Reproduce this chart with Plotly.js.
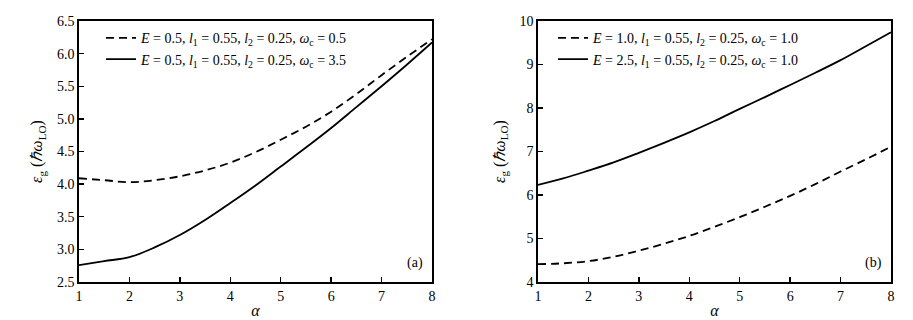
<!DOCTYPE html>
<html><head><meta charset="utf-8">
<script src="https://cdn.plot.ly/plotly-3.0.1.min.js"></script>
<style>body{margin:0;background:#fff}#c{width:913px;height:320px}</style>
</head><body><div id="c"></div>
<script>
const alpha = [1, 1.5, 2, 2.5, 3, 3.5, 4, 4.5, 5, 5.5, 6, 6.5, 7, 7.5, 8];
const aDashed = [4.09, 4.06, 4.03, 4.06, 4.12, 4.21, 4.33, 4.49, 4.68, 4.88, 5.11, 5.38, 5.67, 5.95, 6.22];
const aSolid  = [2.76, 2.82, 2.88, 3.03, 3.22, 3.45, 3.71, 3.98, 4.27, 4.56, 4.86, 5.18, 5.5, 5.83, 6.17];
const bDashed = [4.41, 4.43, 4.48, 4.58, 4.72, 4.88, 5.06, 5.27, 5.49, 5.73, 5.98, 6.25, 6.54, 6.82, 7.11];
const bSolid  = [6.23, 6.38, 6.56, 6.75, 6.97, 7.2, 7.44, 7.7, 7.98, 8.25, 8.53, 8.81, 9.1, 9.42, 9.74];
const namesA = ["<i>E</i> = 0.5, <i>l</i><sub>1</sub> = 0.55, <i>l</i><sub>2</sub> = 0.25, <i>ω</i><sub>c</sub> = 0.5",
                "<i>E</i> = 0.5, <i>l</i><sub>1</sub> = 0.55, <i>l</i><sub>2</sub> = 0.25, <i>ω</i><sub>c</sub> = 3.5"];
const namesB = ["<i>E</i> = 1.0, <i>l</i><sub>1</sub> = 0.55, <i>l</i><sub>2</sub> = 0.25, <i>ω</i><sub>c</sub> = 1.0",
                "<i>E</i> = 2.5, <i>l</i><sub>1</sub> = 0.55, <i>l</i><sub>2</sub> = 0.25, <i>ω</i><sub>c</sub> = 1.0"];
const xTicks = [1,2,3,4,5,6,7,8];
const yTicksA = [2.5,3.0,3.5,4.0,4.5,5.0,5.5,6.0,6.5];
const yTicksB = [4,5,6,7,8,9,10];

const font = {family: "Times New Roman, Liberation Serif, serif", size: 14, color: "#000"};
const titleFont = {family: "Times New Roman, Liberation Serif, serif", size: 16, color: "#000"};
const dashStyle = "8px,5px";
const lw = 1.8;
const traces = [
  {x: alpha, y: aDashed, name: namesA[0], mode: "lines", line: {color: "#000", width: lw, dash: dashStyle, shape: "spline"}, xaxis: "x", yaxis: "y", legend: "legend"},
  {x: alpha, y: aSolid,  name: namesA[1], mode: "lines", line: {color: "#000", width: lw, shape: "spline"}, xaxis: "x", yaxis: "y", legend: "legend"},
  {x: alpha, y: bDashed, name: namesB[0], mode: "lines", line: {color: "#000", width: lw, dash: dashStyle, shape: "spline"}, xaxis: "x2", yaxis: "y2", legend: "legend2"},
  {x: alpha, y: bSolid,  name: namesB[1], mode: "lines", line: {color: "#000", width: lw, shape: "spline"}, xaxis: "x2", yaxis: "y2", legend: "legend2"}
];
const axBase = {showline: true, linecolor: "#000", linewidth: 1.8, mirror: true, ticks: "inside", ticklen: 5, tickwidth: 1.3, tickcolor: "#000", showgrid: false, zeroline: false, tickfont: font};
const ytitle = {text: "<i>ε</i><sub>g</sub> (<i>ℏω</i><sub>LO</sub>)", font: titleFont, standoff: 10};
const xtitle = {text: "<i>α</i>", font: titleFont, standoff: 2};
const legBase = {bgcolor: "rgba(0,0,0,0)", borderwidth: 0, font: font, xanchor: "left", yanchor: "top", tracegroupgap: 0, itemwidth: 30};
const layout = {
  width: 913, height: 320, paper_bgcolor: "#fff", plot_bgcolor: "#fff",
  margin: {l: 0, r: 0, t: 21, b: 38},
  font: font, showlegend: true,
  xaxis: Object.assign({}, axBase, {domain: [79/913, 432/913], range: [1, 8], tickvals: xTicks, ticktext: xTicks.map(String), anchor: "y", title: xtitle}),
  yaxis: Object.assign({}, axBase, {range: [2.5, 6.5], tickvals: yTicksA, ticktext: yTicksA.map(v => v.toFixed(1)), anchor: "x", title: ytitle}),
  xaxis2: Object.assign({}, axBase, {domain: [538/913, 891/913], range: [1, 8], tickvals: xTicks, ticktext: xTicks.map(String), anchor: "y2", title: xtitle}),
  yaxis2: Object.assign({}, axBase, {range: [4, 10], tickvals: yTicksB, ticktext: yTicksB.map(String), anchor: "x2", title: ytitle}),
  legend: Object.assign({}, legBase, {x: 101/913, y: 0.995}),
  legend2: Object.assign({}, legBase, {x: 553/913, y: 0.995}),
  annotations: [
    {text: "(a)", xref: "x domain", yref: "y domain", x: 0.98, y: 0.035, xanchor: "right", yanchor: "bottom", showarrow: false, font: font},
    {text: "(b)", xref: "x2 domain", yref: "y2 domain", x: 0.98, y: 0.035, xanchor: "right", yanchor: "bottom", showarrow: false, font: font}
  ]
};
Plotly.newPlot("c", traces, layout, {displayModeBar: false, staticPlot: true});
</script></body></html>
